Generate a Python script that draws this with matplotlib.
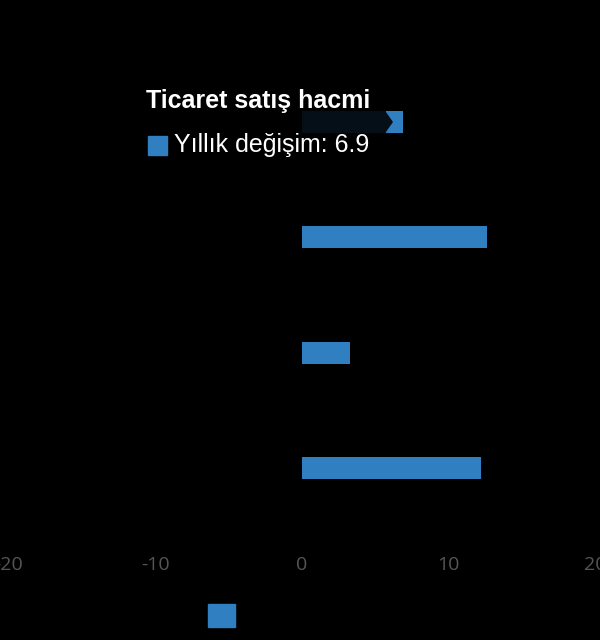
import numpy as np
import matplotlib.pyplot as plt
from matplotlib.patches import Rectangle, Polygon, Patch

# Veriler
kategoriler = ['A', 'B', 'C', 'D']
degisim = [6.9, 12.6, 3.3, 12.2]
x_ticks = [-20, -10, 0, 10, 20]
seri_adi = 'Yıllık değişim'
tooltip_baslik = 'Ticaret satış hacmi'
renk = '#2f7fc1'

plt.rcParams['font.family'] = ['Liberation Sans', 'DejaVu Sans']

fig = plt.figure(figsize=(6, 6.4), dpi=100, facecolor='black')
ax = fig.add_axes([0.015, 0.179, 0.977, 0.72], facecolor='black')

y = np.arange(len(kategoriler))
ax.barh(y, degisim, height=0.19, color=renk, zorder=2)
ax.set_ylim(len(kategoriler) - 0.5, -0.5)
ax.set_xlim(-20, 20)
ax.set_yticks(y)
ax.set_yticklabels(kategoriler, color='black')
ax.set_xticks(x_ticks)
ax.set_xticklabels([str(t) for t in x_ticks], color='#555555', fontsize=14,
                   family=['Open Sans', 'DejaVu Sans'])
ax.tick_params(axis='x', length=0, pad=22)
ax.tick_params(axis='y', length=0, pad=0)
for s in ax.spines.values():
    s.set_visible(False)

# Alt lejant (yazı siyah)
leg = fig.legend(handles=[Patch(color=renk, label=seri_adi)], loc='lower center',
                 bbox_to_anchor=(0.5, -0.014), frameon=False, fontsize=18,
                 handlelength=1.08, handleheight=1.08, handletextpad=0.4,
                 labelcolor='black', borderpad=0.3)

# Tooltip kutusu
W, H = 600, 640
def fx(px):
    return px / W
def fy(py):
    return 1 - py / H
kutu = Polygon([(fx(135), fy(78)), (fx(386), fy(78)), (fx(386), fy(112)),
                (fx(393), fy(122)), (fx(386), fy(132)), (fx(386), fy(168)),
                (fx(135), fy(168))], closed=True, transform=fig.transFigure,
               facecolor='black', alpha=0.88, edgecolor='none', zorder=5)
fig.patches.append(kutu)
fig.text(fx(146), fy(101), tooltip_baslik, color='white', fontsize=18,
         fontweight='bold', va='center', ha='left', zorder=6)
fig.patches.append(Rectangle((fx(148), fy(155)), 19 / W, 19 / H,
                             transform=fig.transFigure, color=renk, zorder=6))
fig.text(fx(174), fy(145), f'{seri_adi}: {degisim[0]}', color='white',
         fontsize=18, va='center', ha='left', zorder=6)

fig.savefig('out.png', dpi=100, facecolor='black')
